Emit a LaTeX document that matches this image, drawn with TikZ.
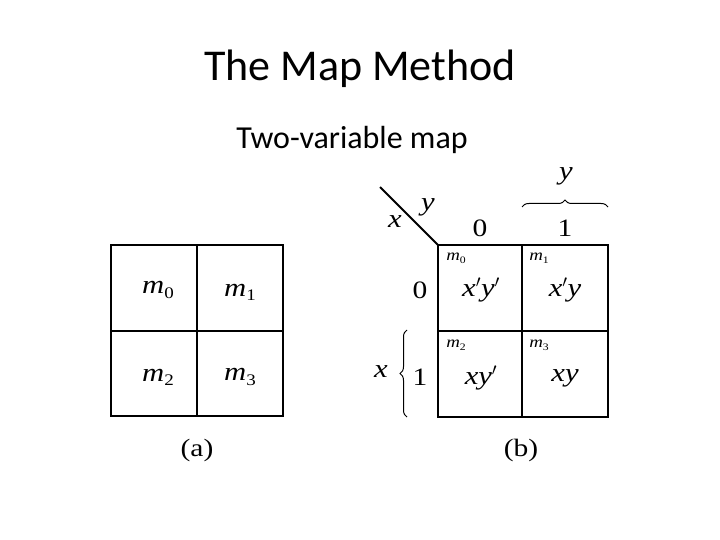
\documentclass[tikz,border=0pt]{standalone}
\usepackage{fontspec}
\setmainfont{Carlito}
\newfontfamily\tms[FakeStretch=1.18]{Liberation Serif}
\usetikzlibrary{decorations.pathreplacing}
\newcommand{\mi}[1]{{\tms\itshape #1}}
\newcommand{\msub}[2]{{\tms\itshape #1}\raisebox{-0.35ex}{\tms\fontsize{0.62em}{0.62em}\selectfont #2}}
\newcommand{\prm}{$^{\prime}$}
\tikzset{
  grid/.style={line width=2.6pt, line cap=rect},
  big/.style={font=\tms\fontsize{26}{28}\selectfont},
  digit/.style={font=\tms\fontsize{25}{27}\selectfont},
  small/.style={font=\tms\fontsize{16}{18}\selectfont, anchor=center},
  brc/.style={decorate, decoration={brace, amplitude=7pt}, line width=1pt},
}
\begin{document}
\begin{tikzpicture}[x=1pt,y=-1pt]
\useasboundingbox (0,0) rectangle (720,540);
\node[font=\fontsize{44}{48}\selectfont] (title) at (360,69) {The Map Method};
\node[font=\fontsize{32}{36}\selectfont] (sub) at (352,140) {Two-variable map};

% map (a)
\coordinate (a1) at (111,245);
\coordinate (a2) at (283,416);
\draw[grid] (a1) rectangle (a2);
\coordinate (av1) at (197,245); \coordinate (av2) at (197,416);
\coordinate (ah1) at (111,331); \coordinate (ah2) at (283,331);
\draw[grid] (av1) -- (av2);
\draw[grid] (ah1) -- (ah2);
\node[big] (am0) at (158,290) {\msub{m}{0}};
\node[big] (am1) at (240,292) {\msub{m}{1}};
\node[big] (am2) at (158,377) {\msub{m}{2}};
\node[big] (am3) at (240,377) {\msub{m}{3}};
\node[digit] (alab) at (197,450) {(a)};

% map (b)
\coordinate (b1) at (438,245);
\coordinate (b2) at (608,417);
\draw[grid] (b1) rectangle (b2);
\coordinate (bv1) at (522,245); \coordinate (bv2) at (522,417);
\coordinate (bh1) at (438,331); \coordinate (bh2) at (608,331);
\draw[grid] (bv1) -- (bv2);
\draw[grid] (bh1) -- (bh2);
\coordinate (diag) at (380,187);
\draw[line width=2pt] (diag) -- (b1);
\node[big] (dx) at (395,222) {\mi{x}};
\node[big] (dy) at (428,207) {\mi{y}};
\node[digit] (c0) at (480,228) {0};
\node[digit] (c1) at (565,228) {1};
\node[digit] (r0) at (420,290) {0};
\node[digit] (r1) at (420,377) {1};
\coordinate (tb1) at (522,207); \coordinate (tb2) at (608,207);
\draw[brc] (tb1) -- (tb2);
\node[big] (ty) at (566,176) {\mi{y}};
\coordinate (lb1) at (407,417); \coordinate (lb2) at (407,330);
\draw[brc] (lb1) -- (lb2);
\node[big] (lx) at (381,372) {\mi{x}};
\node[small] (bm0) at (456,258) {\msub{m}{0}};
\node[small] (bm1) at (539,258) {\msub{m}{1}};
\node[small] (bm2) at (456,345) {\msub{m}{2}};
\node[small] (bm3) at (539,345) {\msub{m}{3}};
\node[big] (bc0) at (481,290) {\mi{x}\prm\mi{y}\prm};
\node[big] (bc1) at (565,290) {\mi{x}\prm\mi{y}};
\node[big] (bc2) at (481,378) {\mi{xy}\prm};
\node[big] (bc3) at (565,378) {\mi{xy}};
\node[digit] (blab) at (521,450) {(b)};
\end{tikzpicture}
\end{document}
